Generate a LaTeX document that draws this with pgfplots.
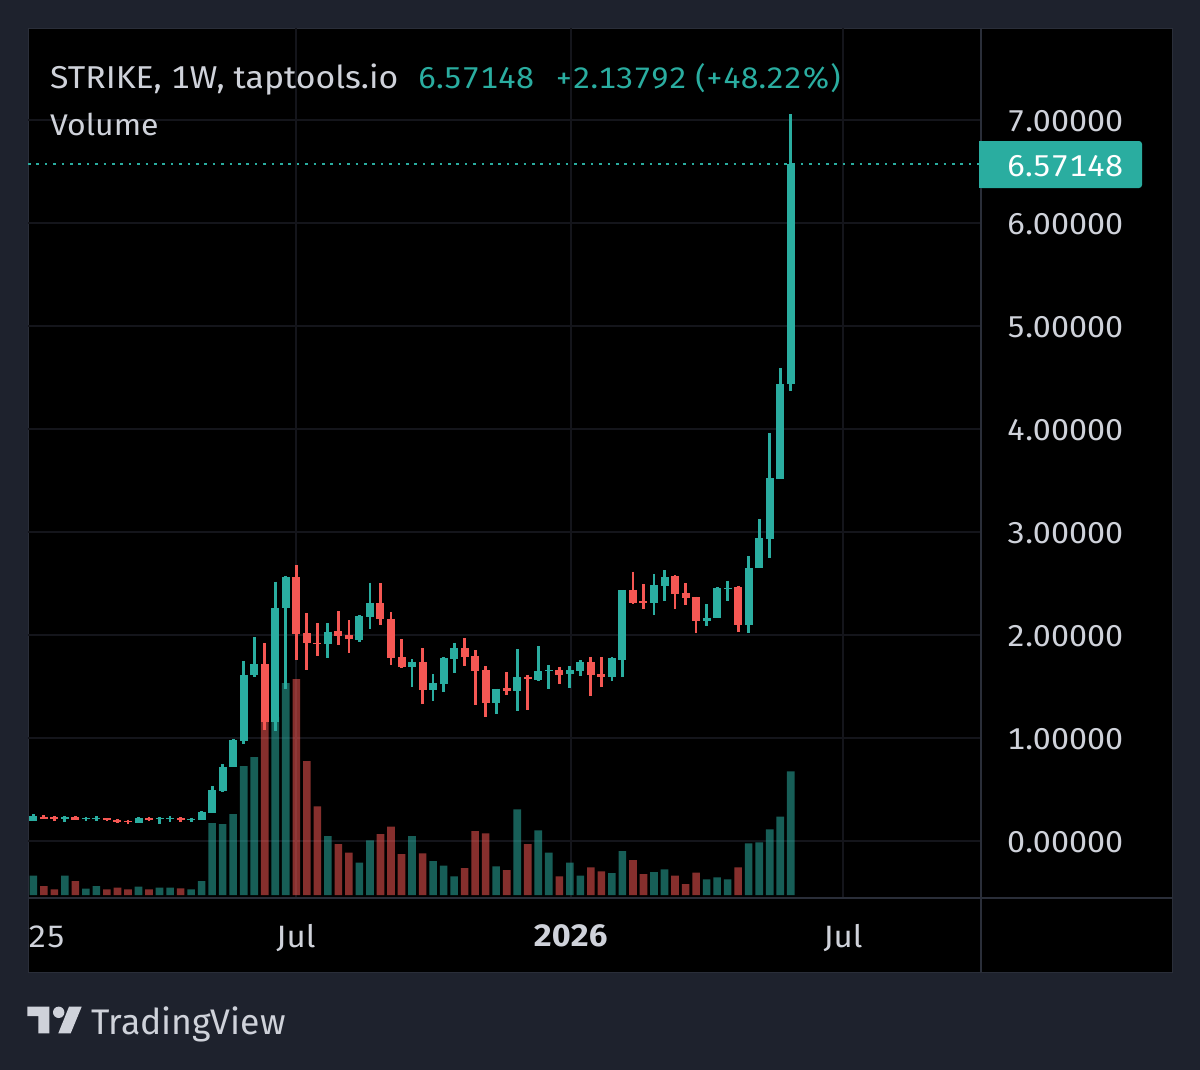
\documentclass[border=0pt]{standalone}
\usepackage{fontspec}
\setmainfont[FakeStretch=1.07,Numbers=Monospaced]{Fira Sans}
\newfontfamily\plainf{Fira Sans}
\usepackage{pgfplots}
\usepackage{pgfplotstable}
\pgfplotsset{compat=1.18}
\definecolor{bg}{HTML}{1E222D}
\definecolor{gridc}{HTML}{14151B}
\definecolor{linec}{HTML}{2A2E39}
\definecolor{txt}{HTML}{CFD2DA}
\definecolor{upc}{HTML}{2AADA0}
\definecolor{dnc}{HTML}{F55753}
\pgfplotstableread{
i o h l c v
0 .194 .262 .194 .239 19.3
3 .214 .239 .188 .230 19.3
5 .210 .230 .194 .220 6.3
6 .214 .239 .194 .227 9
10 .178 .230 .175 .220 8.3
12 .210 .233 .165 .220 7.3
13 .210 .239 .184 .223 7.3
15 .207 .227 .184 .217 5.7
16 .207 .291 .207 .282 14
17 .275 .531 .275 .492 72
18 .485 .744 .476 .718 71
19 .715 .987 .715 .981 81
20 .971 1.748 .939 1.612 129
21 1.608 1.981 1.592 1.718 138
23 1.152 2.518 1.068 2.265 178
24 2.265 2.573 1.472 2.563 212
28 1.913 2.113 1.780 2.032 59
31 1.951 2.194 1.929 2.181 32.3
32 2.175 2.508 2.058 2.311 54.7
36 1.689 1.767 1.492 1.741 59
38 1.469 1.618 1.356 1.534 34
39 1.527 1.783 1.447 1.777 29.3
40 1.767 1.925 1.631 1.874 18.7
44 1.343 1.479 1.233 1.479 28.7
46 1.459 1.864 1.259 1.589 85.7
48 1.563 1.890 1.557 1.647 64.7
49 1.647 1.709 1.472 1.660 42.3
51 1.618 1.699 1.482 1.660 32.3
52 1.650 1.757 1.599 1.741 19.3
55 1.589 1.783 1.553 1.773 22
56 1.760 2.437 1.589 2.437 44
59 2.307 2.592 2.197 2.482 23
60 2.479 2.631 2.330 2.563 25.7
64 2.136 2.301 2.090 2.168 15.7
65 2.165 2.463 2.165 2.456 17.7
66 2.443 2.527 2.330 2.459 15.7
68 2.100 2.767 2.019 2.650 51.7
69 2.647 3.123 2.647 2.938 52.7
70 2.935 3.958 2.744 3.521 65.7
71 3.514 4.592 3.514 4.433 78.3
72 4.43356 7.058 4.372 6.57148 123.7
}\upT
\pgfplotstableread{
i o h l c v
1 .236 .252 .214 .214 9
2 .230 .239 .197 .214 5.7
4 .230 .239 .204 .207 14
7 .220 .223 .197 .201 5.7
8 .204 .214 .175 .188 7.3
9 .194 .207 .165 .181 5.7
11 .220 .233 .194 .207 5.7
14 .220 .233 .184 .207 6.7
22 1.718 1.919 1.078 1.152 185
25 2.560 2.680 1.754 2.013 216
26 2.016 2.210 1.660 1.925 134
27 1.925 2.113 1.796 1.916 88.7
29 2.035 2.230 1.903 1.990 51
30 1.997 2.142 1.828 1.958 42.3
33 2.311 2.501 2.097 2.152 61
34 2.158 2.220 1.709 1.780 68.3
35 1.783 1.961 1.676 1.692 41
37 1.738 1.871 1.333 1.469 41.7
41 1.871 1.967 1.696 1.786 27
42 1.793 1.854 1.324 1.654 64
43 1.657 1.699 1.207 1.343 61.7
45 1.482 1.641 1.421 1.456 25
47 1.595 1.615 1.275 1.569 51
50 1.660 1.692 1.527 1.615 18.7
53 1.738 1.790 1.411 1.615 27.7
54 1.621 1.786 1.492 1.595 23.7
57 2.437 2.615 2.298 2.311 35
58 2.327 2.492 2.252 2.307 21
61 2.569 2.582 2.252 2.398 19.3
62 2.404 2.501 2.288 2.362 11
63 2.366 2.372 2.019 2.139 22.3
67 2.466 2.479 2.029 2.100 27.7
}\dnT
\pgfplotsset{
  base/.style={
    at={(28bp,-897bp)}, anchor=south west, scale only axis,
    width=952bp, height=869bp,
    xmin=-0.504, xmax=89.99,
    axis line style={draw=none},
    major tick length=0pt, tick style={draw=none},
  },
  wick/.style={draw=none, no markers, forget plot,
    error bars/.cd, y dir=minus, y explicit, error mark=none,
    error bar style={draw=#1, line width=2.8bp}},
  body/.style={draw=none, no markers, forget plot,
    error bars/.cd, y dir=minus, y explicit, error mark=none,
    error bar style={draw=#1, line width=8bp}},
}
\begin{document}
\begin{tikzpicture}[x=1bp,y=-1bp]
\fill[bg] (0,0) rectangle (1200,1070);
\fill[black] (28,28) rectangle (1172,972);
\draw[linec, line width=1bp] (28,28) rectangle (1172,972);
% grid and volume
\begin{axis}[base, ymin=-0.5437, ymax=7.893,
  ytick={0,1,2,3,4,5,6,7}, xtick={24.97,51.08,76.97},
  xticklabels={}, yticklabels={},
  grid=major, grid style={gridc, line width=2bp}]
\end{axis}
\begin{axis}[base, ymin=-2, ymax=867, xtick=\empty, ytick=\empty,
  ybar, bar width=7.6bp, bar shift=0pt]
\addplot[fill=upc, fill opacity=.55, draw=none] table[x=i,y=v] {\upT};
\addplot[fill=dnc, fill opacity=.55, draw=none] table[x=i,y=v] {\dnT};
\end{axis}
% price
\begin{axis}[base, ymin=-0.5437, ymax=7.893,
  ytick={0,1,2,3,4,5,6,7}, xtick={24.97,51.08,76.97},
  xticklabels={Jul,\textbf{2026},Jul},
  yticklabel pos=right,
  /pgf/number format/assume math mode=true,
  /pgf/number format/fixed, /pgf/number format/zerofill, /pgf/number format/precision=5,
  tick label style={font=\fontsize{30.2}{38}\selectfont, text=txt},
  xticklabel style={font=\fontsize{31}{38}\selectfont, inner sep=0pt, yshift=-27bp},
  yticklabel style={inner sep=0pt, xshift=27bp, yshift=-1bp}]
\addplot[upc, line width=2.6bp, dash pattern=on 2.6bp off 5.8bp, forget plot] coordinates {(-0.504,6.57148) (89.99,6.57148)};
\addplot[wick=dnc] table[x=i, y=h, y error minus expr=\thisrow{h}-\thisrow{l}] {\dnT};
\addplot[body=dnc] table[x=i, y=o, y error minus expr=\thisrow{o}-\thisrow{c}] {\dnT};
\addplot[wick=upc] table[x=i, y=h, y error minus expr=\thisrow{h}-\thisrow{l}] {\upT};
\addplot[body=upc] table[x=i, y=c, y error minus expr=\thisrow{c}-\thisrow{o}] {\upT};
\end{axis}
\draw[linec, line width=2bp] (28,897.5) -- (1172,897.5);
\draw[linec, line width=2bp] (980.5,28) -- (980.5,972);
% price label
\fill[upc, rounded corners=3bp] (979,141) rectangle (1142,188);
\fill[upc] (979,141) rectangle (990,188);
\node[anchor=base west, inner sep=0pt, text=white, font=\fontsize{30.2}{38}\selectfont] at (1007,176.5) {6.57148};
\node[anchor=base west, inner sep=0pt, text=txt, font=\fontsize{31}{37}\selectfont] at (28,947) {25};
% titles
\node[anchor=base west, inner sep=0pt, text=txt, font=\fontsize{31.7}{38}\selectfont] at (50,88) {STRIKE, 1W, taptools.io};
\node[anchor=base west, inner sep=0pt, text=upc, font=\fontsize{30.2}{38}\selectfont] at (418,88) {6.57148};
\node[anchor=base west, inner sep=0pt, text=upc, font=\fontsize{29.7}{38}\selectfont] at (555,88) {+2.13792 (+48.22\%)};
\node[anchor=base west, inner sep=0pt, text=txt, font=\fontsize{30}{37}\selectfont] at (50,135) {Volume};
% logo
\fill[txt] (27.3,1006.7) -- (49.3,1006.7) -- (49.3,1033.3) -- (38.3,1033.3) -- (38.3,1016) -- (27.3,1016) -- cycle;
\fill[txt] (58.7,1012.3) circle (5.7);
\fill[txt] (81.7,1006.7) -- (70.7,1033.3) -- (58.3,1033.3) -- (69,1006.7) -- cycle;
\node[anchor=base west, inner sep=0pt, text=txt, font=\plainf\fontsize{35.7}{42}\selectfont] at (91,1034) {TradingView};
\end{tikzpicture}
\end{document}
